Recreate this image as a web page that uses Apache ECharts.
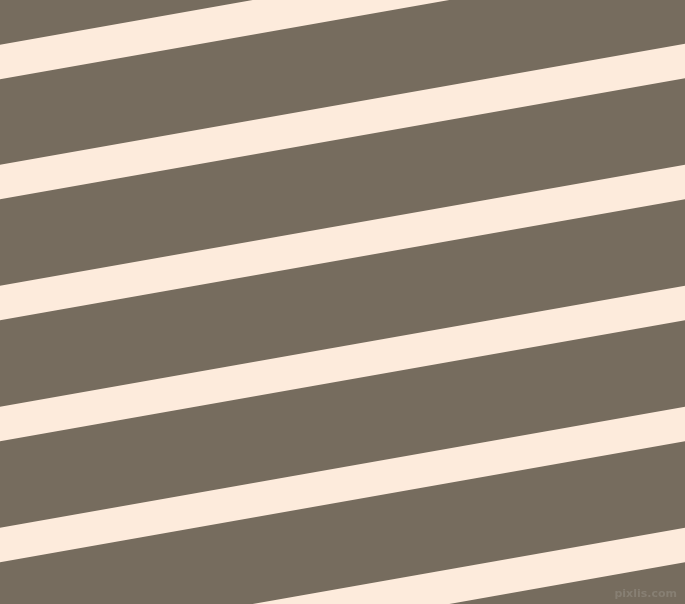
<!DOCTYPE html>
<html>
<head>
<meta charset="utf-8">
<script src="https://cdn.jsdelivr.net/npm/echarts@6/dist/echarts.min.js"></script>
<style>
html,body{margin:0;padding:0;background:#766c5e;}
#main{width:685px;height:604px;}
</style>
</head>
<body>
<div id="main"></div>
<script>
// centre of each stripe, y at the left edge (x=0) and right edge (x=685)
var leftY=[62,182,303,424,545,666];
var rightY=[-59,61,182,303,424,545];
var edgeX=[0,685];

var bg='#766c5e';
var stripe='#fdebdc';

var series=[];
for(var i=0;i<leftY.length;i++){
    series.push({
        type:'line',
        data:[[edgeX[0],leftY[i]],[edgeX[1],rightY[i]]],
        symbol:'none',
        silent:true,
        clip:true,
        lineStyle:{color:stripe,width:34.2,cap:'square'}
    });
}

var myChart=echarts.init(document.getElementById('main'));
var option={
    backgroundColor:bg,
    animation:false,
    grid:{left:0,right:0,top:0,bottom:0},
    xAxis:{type:'value',min:0,max:685,show:false},
    yAxis:{type:'value',min:0,max:604,inverse:true,show:false},
    series:series,
    graphic:[{
        type:'text',
        right:8,
        bottom:4,
        style:{
            text:'pixlis.com',
            fill:'#877f73',
            font:'bold 11px "DejaVu Sans", sans-serif'
        }
    }]
};
myChart.setOption(option);
</script>
</body>
</html>
